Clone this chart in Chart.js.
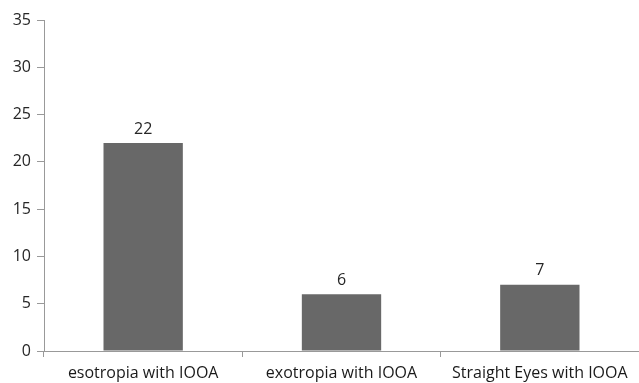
<!DOCTYPE html>
<html>
<head>
  <title>IOOA chart</title>
  <script src="https://cdn.jsdelivr.net/npm/chart.js"></script>
  <style>
    body { margin: 0; background: #ffffff; }
    #wrap { width: 639px; height: 383px; }
  </style>
</head>
<body>
<div id="wrap"><canvas id="chart" width="639" height="383"></canvas></div>
<script>
  const categories = ["esotropia with IOOA", "exotropia with IOOA", "Straight Eyes with IOOA"];
  const counts = [22, 6, 7];
  const yMin = 0, yMax = 35, yStep = 5;

  const fontFamily = "'Open Sans', 'Noto Sans', sans-serif";

  // draws the value above each bar
  const valueLabels = {
    id: 'valueLabels',
    afterDatasetsDraw(chart) {
      const ctx = chart.ctx;
      const meta = chart.getDatasetMeta(0);
      ctx.save();
      ctx.font = "16px " + fontFamily;
      ctx.fillStyle = "#262626";
      ctx.textAlign = "center";
      ctx.textBaseline = "bottom";
      meta.data.forEach((bar, i) => {
        ctx.fillText(counts[i], bar.x, bar.y - 6);
      });
      ctx.restore();
    }
  };

  new Chart(document.getElementById('chart'), {
    type: 'bar',
    data: {
      labels: categories,
      datasets: [{
        data: counts,
        backgroundColor: '#686868',
        borderWidth: 0,
        barPercentage: 0.4,
        categoryPercentage: 1.0
      }]
    },
    options: {
      responsive: false,
      animation: false,
      layout: { padding: { top: 20, right: 0, left: 0, bottom: 0 } },
      plugins: { legend: { display: false }, tooltip: { enabled: false } },
      scales: {
        y: {
          min: yMin, max: yMax,
          ticks: { stepSize: yStep, color: '#262626', padding: 6, font: { family: fontFamily, size: 16 } },
          grid: { drawOnChartArea: false, tickLength: 7, color: '#999999' },
          border: { color: '#999999' },
          afterFit(scale) { scale.width = 44; }
        },
        x: {
          ticks: { color: '#1a1a1a', padding: 7, font: { family: fontFamily, size: 16 }, maxRotation: 0 },
          grid: { drawOnChartArea: false, offset: true, tickLength: 6, color: '#999999' },
          border: { color: '#999999' },
          afterFit(scale) { scale.height = 32; }
        }
      }
    },
    plugins: [valueLabels]
  });
</script>
</body>
</html>
